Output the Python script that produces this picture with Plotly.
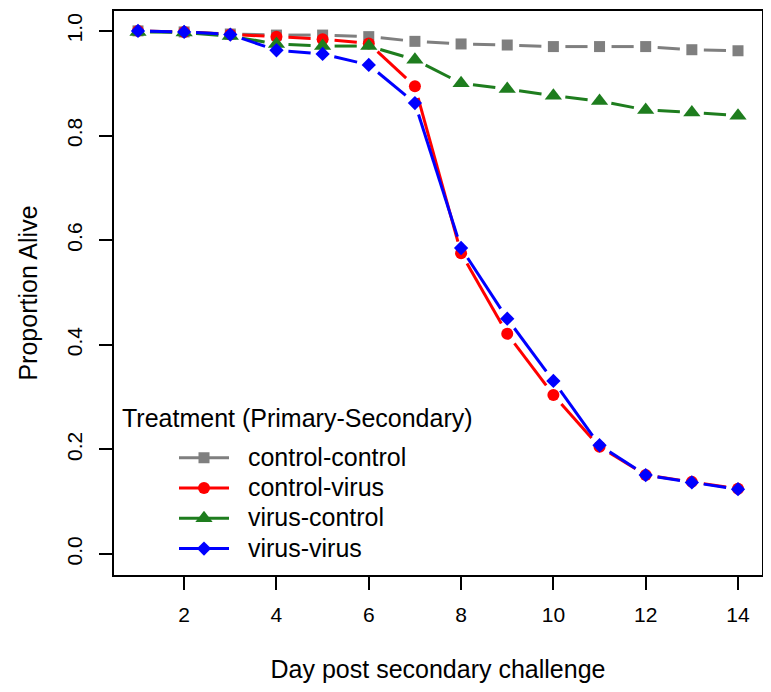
import plotly.graph_objects as go

days = list(range(1, 15))
control_control = [1.000, 0.998, 0.994, 0.992, 0.992, 0.989, 0.980, 0.975, 0.973, 0.970, 0.970, 0.970, 0.964, 0.962]
control_virus = [1.000, 0.998, 0.993, 0.989, 0.984, 0.976, 0.894, 0.575, 0.421, 0.304, 0.205, 0.151, 0.138, 0.125]
virus_control = [0.998, 0.997, 0.990, 0.975, 0.971, 0.971, 0.945, 0.900, 0.889, 0.876, 0.866, 0.849, 0.844, 0.838]
virus_virus = [1.000, 0.998, 0.993, 0.963, 0.956, 0.935, 0.862, 0.585, 0.450, 0.331, 0.208, 0.151, 0.137, 0.124]

x_ticks = [2, 4, 6, 8, 10, 12, 14]
y_ticks = [0, 0.2, 0.4, 0.6, 0.8, 1.0]
y_ticklabels = ["0.0", "0.2", "0.4", "0.6", "0.8", "1.0"]

series = [
    ("control-control", control_control, "#7F7F7F", "square", 11),
    ("control-virus", control_virus, "#FF0000", "circle", 12),
    ("virus-control", virus_control, "#1E7D1E", "triangle-up", 15),
    ("virus-virus", virus_virus, "#0000FF", "diamond", 11),
]

W, H = 771, 692
ML, MR, MT, MB = 106, 17, 1, 125
PW, PH = W - ML - MR, H - MT - MB
xr = [0.48, 14.52]
yr = [-0.04, 1.038]
pxx = PW / (xr[1] - xr[0])
pxy = PH / (yr[1] - yr[0])
GAP = 12  # px gap around points (R type="b")

FONT = "Liberation Sans, Arial, Helvetica, sans-serif"
NB = "\u00a0"


def px_to_paper_x(fx):
    return (fx - ML) / PW


def px_to_paper_y(fy):
    return (H - MB - fy) / PH


fig = go.Figure()
for name, ys, col, sym, sz in series:
    sx, sy = [], []
    for i in range(len(days) - 1):
        x0, y0, x1, y1 = days[i], ys[i], days[i + 1], ys[i + 1]
        dxp, dyp = (x1 - x0) * pxx, (y1 - y0) * pxy
        L = (dxp ** 2 + dyp ** 2) ** 0.5
        if L <= 2 * GAP:
            continue
        f = GAP / L
        sx += [x0 + (x1 - x0) * f, x1 - (x1 - x0) * f, None]
        sy += [y0 + (y1 - y0) * f, y1 - (y1 - y0) * f, None]
    fig.add_trace(go.Scatter(x=sx, y=sy, mode="lines", line=dict(color=col, width=3),
                             showlegend=False, hoverinfo="skip"))
    fig.add_trace(go.Scatter(x=days, y=ys, mode="markers",
                             marker=dict(symbol=sym, size=sz, color=col, line=dict(width=0)),
                             showlegend=False, name=name))

for name, ys, col, sym, sz in series:
    fig.add_trace(go.Scatter(x=[None], y=[None], mode="lines+markers",
                             name='<span style="font-size:25px">' + NB * 2 + name + '</span>',
                             line=dict(color=col, width=3),
                             marker=dict(symbol=sym, size=sz, color=col)))

axis_common = dict(ticks="outside", ticklen=13, tickwidth=1.5, tickcolor="black",
                   showline=True, linecolor="black", linewidth=1.5, mirror=True,
                   showgrid=False, zeroline=False, tickfont=dict(size=21))

fig.update_layout(
    width=W, height=H,
    margin=dict(l=ML, r=MR, t=MT, b=MB),
    paper_bgcolor="white", plot_bgcolor="white",
    font=dict(family=FONT, color="black"),
    xaxis=dict(range=xr, tickvals=x_ticks, ticklabelstandoff=7, **axis_common,
               title=dict(text="Day post secondary challenge", font=dict(size=25), standoff=36)),
    yaxis=dict(range=yr, tickvals=y_ticks, ticktext=y_ticklabels, tickangle=-90,
               ticklabelstandoff=9, **axis_common,
               title=dict(text="Proportion Alive", font=dict(size=25), standoff=18)),
    legend=dict(x=px_to_paper_x(166), y=px_to_paper_y(429), xanchor="left", yanchor="top",
                bgcolor="rgba(0,0,0,0)", font=dict(size=21), itemwidth=50, tracegroupgap=0),
    annotations=[dict(text="Treatment (Primary-Secondary)", xref="paper", yref="paper",
                      x=px_to_paper_x(112), y=px_to_paper_y(409),
                      xanchor="left", yanchor="middle", showarrow=False, font=dict(size=25))],
)

fig.write_html("out.html")
